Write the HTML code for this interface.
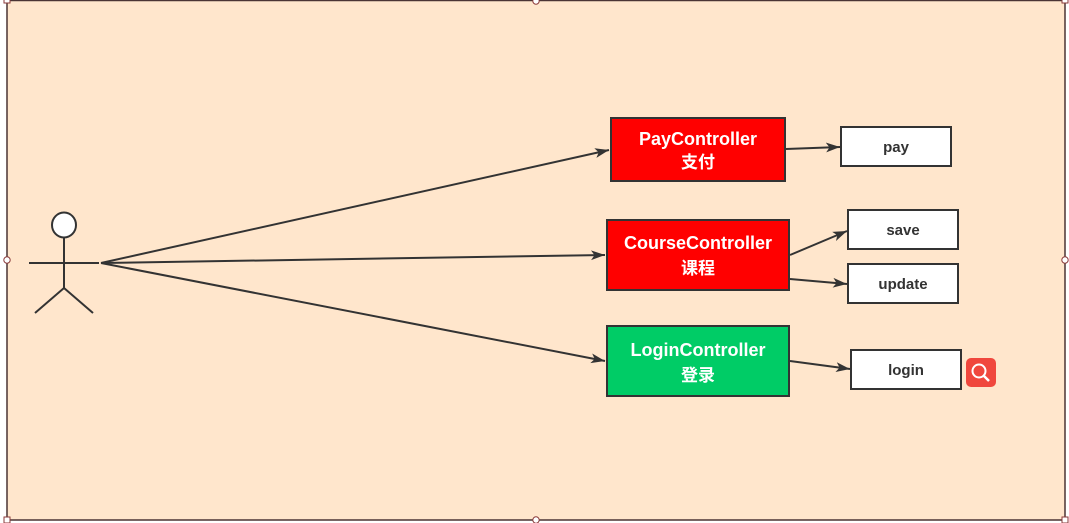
<!DOCTYPE html>
<html><head><meta charset="utf-8"><style>
html,body{margin:0;padding:0;background:#fff;width:1069px;height:523px;overflow:hidden}
svg{display:block}
text{font-family:"Liberation Sans","Noto Sans CJK SC",sans-serif;font-weight:bold;text-anchor:middle}
</style></head><body>
<svg width="1069" height="523" viewBox="0 0 1069 523">
<defs>
<marker id="b" viewBox="0 0 10 10" refX="10" refY="5" markerWidth="14" markerHeight="14" markerUnits="userSpaceOnUse" orient="auto"><path d="M0,1.5 L10,5 L0,8.5 L2.5,5z" fill="#333"/></marker></defs>
<rect x="7" y="0.5" width="1058" height="519.5" fill="#FFE6CC" stroke="#4a3434" stroke-width="1.5"/>
<rect x="4" y="-3" width="6" height="6" fill="#fff" stroke="#8b3a3a"/>
<rect x="1062" y="-3" width="6" height="6" fill="#fff" stroke="#8b3a3a"/>
<rect x="1062" y="517" width="6" height="6" fill="#fff" stroke="#8b3a3a"/>
<rect x="4" y="517" width="6" height="6" fill="#fff" stroke="#8b3a3a"/>
<circle cx="7" cy="260" r="3.2" fill="#fff" stroke="#8b3a3a"/>
<circle cx="1065" cy="260" r="3.2" fill="#fff" stroke="#8b3a3a"/>
<circle cx="536" cy="1" r="3.2" fill="#fff" stroke="#8b3a3a"/>
<circle cx="536" cy="520" r="3.2" fill="#fff" stroke="#8b3a3a"/>
<g stroke="#333" stroke-width="2" fill="none">
<ellipse cx="64" cy="225" rx="12" ry="12.5" fill="#fff"/>
<line x1="64" y1="238" x2="64" y2="288"/>
<line x1="29" y1="263" x2="99" y2="263"/>
<line x1="64" y1="288" x2="35" y2="313"/>
<line x1="64" y1="288" x2="93" y2="313"/>
</g>
<g stroke="#333" stroke-width="2" fill="none">
<line x1="101" y1="263" x2="609" y2="150" marker-end="url(#b)"/>
<line x1="101" y1="263" x2="605" y2="255" marker-end="url(#b)"/>
<line x1="101" y1="263" x2="605" y2="361" marker-end="url(#b)"/>
<line x1="786" y1="149" x2="840" y2="147" marker-end="url(#b)"/>
<line x1="790" y1="255" x2="847" y2="231" marker-end="url(#b)"/>
<line x1="790" y1="279" x2="847" y2="284" marker-end="url(#b)"/>
<line x1="790" y1="361" x2="850" y2="369" marker-end="url(#b)"/>
</g>
<rect x="611" y="118" width="174" height="63" fill="#FF0000" stroke="#333" stroke-width="2"/>
<text x="698" y="145" fill="#fff" font-size="18">PayController</text>
<text x="698" y="168" fill="#fff" font-size="17">支付</text>
<rect x="607" y="220" width="182" height="70" fill="#FF0000" stroke="#333" stroke-width="2"/>
<text x="698" y="249" fill="#fff" font-size="18">CourseController</text>
<text x="698" y="274" fill="#fff" font-size="17">课程</text>
<rect x="607" y="326" width="182" height="70" fill="#00CC66" stroke="#333" stroke-width="2"/>
<text x="698" y="356" fill="#fff" font-size="18">LoginController</text>
<text x="698" y="381" fill="#fff" font-size="17">登录</text>
<g fill="#fff" stroke="#333" stroke-width="2">
<rect x="841" y="127" width="110" height="39"/>
<rect x="848" y="210" width="110" height="39"/>
<rect x="848" y="264" width="110" height="39"/>
<rect x="851" y="350" width="110" height="39"/>
</g>
<g fill="#333" font-size="15">
<text x="896" y="152">pay</text>
<text x="903" y="235">save</text>
<text x="903" y="289">update</text>
<text x="906" y="375">login</text>
</g>
<rect x="966" y="358" width="30" height="29" rx="5" fill="#F0473D"/>
<circle cx="979" cy="371" r="6.5" fill="none" stroke="#fff" stroke-width="2"/>
<line x1="984" y1="376" x2="989" y2="381" stroke="#fff" stroke-width="2.5"/>
</svg>
</body></html>
